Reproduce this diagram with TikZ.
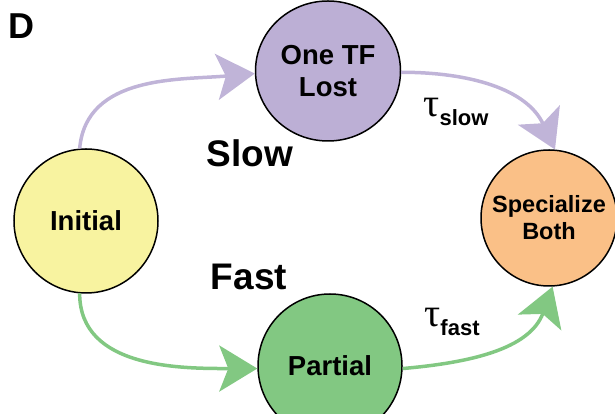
\documentclass[tikz,border=0pt]{standalone}
\usepackage{fontspec}
\setmainfont{Liberation Sans}
\newfontfamily\tauf{Liberation Serif}
\usetikzlibrary{arrows.meta,shapes.geometric}
\definecolor{cyel}{RGB}{248,243,160}
\definecolor{cpur}{RGB}{188,175,213}
\definecolor{cpurl}{RGB}{192,180,216}
\definecolor{corg}{RGB}{250,192,135}
\definecolor{cgrn}{RGB}{130,200,130}
\tikzset{
  state/.style={circle, draw=black, line width=1.5pt, inner sep=0pt, align=center,
    font=\fontsize{27.5}{32}\selectfont\bfseries},
  conn/.style={line width=3.5pt, -{Stealth[length=38pt,width=46pt,inset=9pt]}},
  big/.style={font=\fontsize{37}{37}\selectfont\bfseries},
}
\newcommand{\tausub}[1]{{\tauf\fontsize{40}{40}\selectfont τ}\raisebox{-9pt}{\fontsize{22}{22}\selectfont\bfseries #1}}
\begin{document}
\begin{tikzpicture}[x=1pt,y=1pt]
\useasboundingbox (0,0) rectangle (615,414);
\node[state, fill=cyel, minimum size=144pt] (init) at (86,193) {Initial};
\node[state, ellipse, fill=cpur, minimum width=145pt, minimum height=140pt] (lost) at (328,343) {One TF\\Lost};
\node[state, fill=corg, minimum size=136pt, font=\fontsize{23.5}{27}\selectfont\bfseries] (spec) at (549,196) {Specialize\\Both};
\node[state, fill=cgrn, minimum size=144pt] (part) at (330,48) {Partial};
\node[font=\fontsize{36}{36}\selectfont\bfseries] (lab) at (21,388) {D};
\node[big] (slow) at (250,261) {Slow};
\node[big] (fast) at (249,137) {Fast};
\node (ts) at (456,302) {\tausub{slow}};
\node (tf) at (452,92) {\tausub{fast}};
\draw[conn, cpurl] (init.95) to[out=85, in=185] (lost.182);
\draw[conn, cpurl] (lost.-1) to[out=0, in=115] (spec.85);
\draw[conn, cgrn] (init.265) to[out=270, in=180] (part.182);
\draw[conn, cgrn] (part.-2) to[out=5, in=-110] (spec.-87);
\end{tikzpicture}
\end{document}
